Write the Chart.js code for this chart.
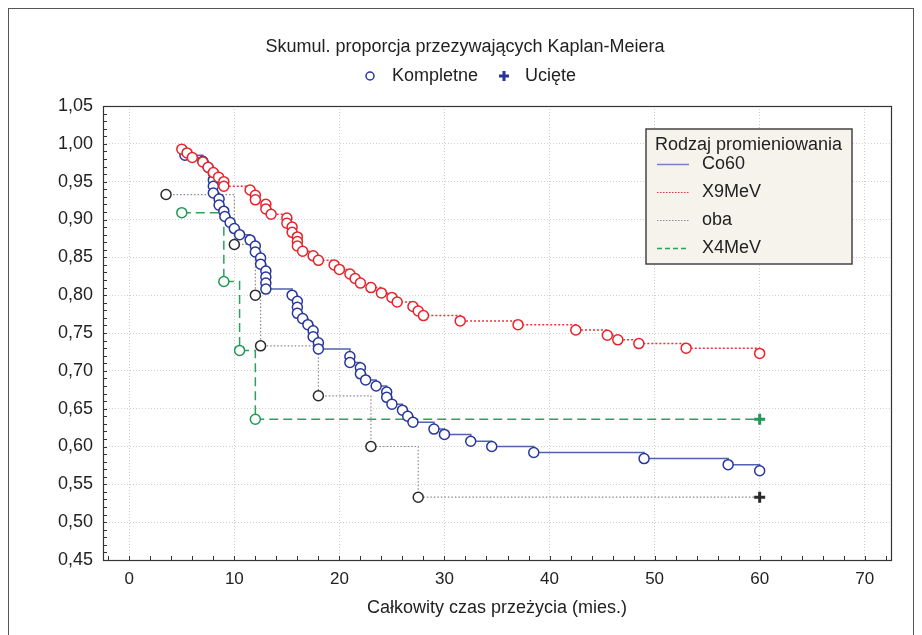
<!DOCTYPE html>
<html lang="pl">
<head>
<meta charset="utf-8">
<title>Skumul. proporcja przezywających Kaplan-Meiera</title>
<script src="https://cdn.jsdelivr.net/npm/chart.js@4.4.1/dist/chart.umd.min.js"></script>
<style>
  html, body { margin: 0; padding: 0; background: #fff; }
</style>
</head>
<body>
<canvas id="km" width="922" height="635"></canvas>
<script>
// ── Dane ──────────────────────────────────────────────────
const co60Czas = [5.3, 7.0, 7.5, 8.0, 8.0, 8.0, 8.0, 8.55, 8.55, 9.0, 9.1, 9.6, 10.0, 10.5, 11.5, 12.0, 12.0, 12.5, 12.5,
  13.0, 13.0, 13.0, 13.0, 15.5, 16.0, 16.0, 16.0, 16.5, 17.0, 17.5, 17.5, 18.0, 18.0, 21.0, 21.0, 22.0, 22.0, 22.5,
  23.5, 24.5, 24.5, 25.0, 26.0, 26.5, 27.0, 29.0, 30.0, 32.5, 34.5, 38.5, 49.0, 57.0, 60.0];
const co60Przez = [0.985, 0.977, 0.969, 0.961, 0.952, 0.944, 0.935, 0.927, 0.919, 0.911, 0.904, 0.896, 0.888, 0.880,
  0.873, 0.865, 0.857, 0.849, 0.841, 0.832, 0.824, 0.816, 0.808, 0.800, 0.792, 0.784, 0.776, 0.769, 0.761, 0.753,
  0.745, 0.737, 0.729, 0.719, 0.711, 0.704, 0.696, 0.688, 0.680, 0.672, 0.665, 0.656, 0.648, 0.640, 0.632, 0.623,
  0.616, 0.607, 0.600, 0.592, 0.584, 0.576, 0.568];

const x9Czas = [5.0, 5.5, 6.0, 7.0, 7.5, 8.0, 8.5, 9.0, 9.0, 11.5, 12.0, 12.0, 13.0, 13.0, 13.5, 15.0, 15.0, 15.5,
  15.5, 16.0, 16.0, 16.0, 16.5, 17.5, 18.0, 19.5, 20.0, 21.0, 21.5, 22.0, 23.0, 24.0, 25.0, 25.5, 27.0, 27.5, 28.0,
  31.5, 37.0, 42.5, 45.5, 46.5, 48.5, 53.0, 60.0];
const x9Przez = [0.993, 0.988, 0.982, 0.976, 0.969, 0.962, 0.956, 0.950, 0.944, 0.939, 0.932, 0.926, 0.920, 0.914,
  0.907, 0.902, 0.895, 0.890, 0.883, 0.877, 0.871, 0.865, 0.858, 0.852, 0.846, 0.840, 0.834, 0.828, 0.822, 0.816,
  0.810, 0.803, 0.797, 0.791, 0.785, 0.779, 0.773, 0.766, 0.761, 0.754, 0.747, 0.741, 0.736, 0.730, 0.723];

const obaCzas = [3.5, 10.0, 12.0, 12.5, 18.0, 23.0, 27.5];
const obaPrzez = [0.933, 0.867, 0.800, 0.733, 0.667, 0.600, 0.533];
const obaUcCzas = [60.0];
const obaUcPrzez = [0.533];

const x4Czas = [5.0, 9.0, 10.5, 12.0];
const x4Przez = [0.909, 0.818, 0.727, 0.636];
const x4UcCzas = [60.0];
const x4UcPrzez = [0.636];

const xTicks = [0, 10, 20, 30, 40, 50, 60, 70];
const yTicks = [0.45, 0.50, 0.55, 0.60, 0.65, 0.70, 0.75, 0.80, 0.85, 0.90, 0.95, 1.00, 1.05];
const yTickLabels = ['0,45', '0,50', '0,55', '0,60', '0,65', '0,70', '0,75', '0,80', '0,85', '0,90', '0,95', '1,00', '1,05'];

const FONT = '"Liberation Sans", Arial, sans-serif';
Chart.defaults.font.family = FONT;
Chart.defaults.color = '#222';

// ── Helpers ───────────────────────────────────────────────
function seria(czas, przez, ucCzas = [], ucPrzez = []) {
  const pts = czas.map((t, i) => ({ x: t, y: przez[i] }));
  ucCzas.forEach((t, i) => pts.push({ x: t, y: ucPrzez[i] }));
  const uc = i => i >= czas.length;
  return {
    data: pts,
    pointStyle: pts.map((p, i) => uc(i) ? 'cross' : 'circle'),
    pointRadius: pts.map((p, i) => uc(i) ? 5.5 : 5),
    pointBorderWidth: pts.map((p, i) => uc(i) ? 3 : 1.5)
  };
}

const co60 = seria(co60Czas, co60Przez);
const x9 = seria(x9Czas, x9Przez);
const oba = seria(obaCzas, obaPrzez, obaUcCzas, obaUcPrzez);
const x4 = seria(x4Czas, x4Przez, x4UcCzas, x4UcPrzez);

// ── Ramka, podziałki, tytuł i legendy ──────────────────────
const ramka = {
  id: 'ramka',
  beforeDraw(chart) {
    const ctx = chart.ctx;
    ctx.save();
    ctx.fillStyle = '#fff';
    ctx.fillRect(0, 0, chart.width, chart.height);
    ctx.strokeStyle = '#555';
    ctx.lineWidth = 1;
    ctx.strokeRect(8.5, 8.5, 905, 640);
    ctx.restore();
  },
  afterDraw(chart) {
    const { ctx, chartArea: a, scales: { x, y } } = chart;
    ctx.save();
    // podziałki wewnętrzne
    ctx.strokeStyle = '#333';
    ctx.lineWidth = 1;
    ctx.beginPath();
    for (let v = -2; v <= 72; v += 2) {
      const px = Math.round(x.getPixelForValue(v)) + 0.5;
      ctx.moveTo(px, a.bottom); ctx.lineTo(px, a.bottom - 4);
    }
    for (let k = 45; k <= 105; k++) {
      const py = Math.round(y.getPixelForValue(k / 100)) + 0.5;
      ctx.moveTo(a.left, py); ctx.lineTo(a.left + 4, py);
    }
    ctx.stroke();
    ctx.strokeStyle = '#333';
    ctx.lineWidth = 1.2;
    ctx.strokeRect(a.left + 0.5, a.top + 0.5, a.right - a.left, a.bottom - a.top);

    // tytuł
    ctx.fillStyle = '#222';
    ctx.font = '18px ' + FONT;
    ctx.textBaseline = 'middle';
    ctx.textAlign = 'center';
    ctx.fillText('Skumul. proporcja przezywających Kaplan-Meiera', 465, 47);

    // legenda znaczników
    ctx.textAlign = 'left';
    ctx.strokeStyle = '#26369a';
    ctx.lineWidth = 1.5;
    ctx.beginPath(); ctx.arc(370, 76, 4, 0, Math.PI * 2); ctx.stroke();
    ctx.fillText('Kompletne', 392, 76);
    ctx.lineWidth = 3;
    ctx.beginPath();
    ctx.moveTo(499, 76); ctx.lineTo(509, 76);
    ctx.moveTo(504, 71); ctx.lineTo(504, 81);
    ctx.stroke();
    ctx.fillText('Ucięte', 525, 76);

    // legenda grup
    ctx.fillStyle = '#f6f3ec';
    ctx.fillRect(646, 129, 206, 135);
    ctx.strokeStyle = '#444';
    ctx.lineWidth = 1.5;
    ctx.strokeRect(646, 129, 206, 135);
    ctx.fillStyle = '#222';
    ctx.fillText('Rodzaj promieniowania', 655, 145);
    const wpisy = [
      ['Co60', '#7480c0', [], 1.5],
      ['X9MeV', '#e8343c', [1.5, 1.5], 1.2],
      ['oba', '#8a8a8a', [1.5, 1.5], 1],
      ['X4MeV', '#2fa05e', [5, 3], 1.5]
    ];
    wpisy.forEach(([nazwa, kolor, dash, w], i) => {
      const yy = 164 + i * 28;
      ctx.strokeStyle = kolor;
      ctx.lineWidth = w;
      ctx.setLineDash(dash);
      ctx.beginPath(); ctx.moveTo(657, yy + 0.5); ctx.lineTo(689, yy + 0.5); ctx.stroke();
      ctx.setLineDash([]);
      ctx.fillText(nazwa, 702, yy);
    });
    ctx.restore();
  }
};

// ── Wykres ────────────────────────────────────────────────
new Chart(document.getElementById('km'), {
  type: 'scatter',
  data: {
    datasets: [
      {
        label: 'X9MeV', ...x9, showLine: true, stepped: true, order: 0,
        borderColor: '#e8343c', borderWidth: 1.5, borderDash: [2, 2],
        pointBorderColor: '#e8222b', pointBackgroundColor: '#fff'
      },
      {
        label: 'Co60', ...co60, showLine: true, stepped: true, order: 1,
        borderColor: '#5262b0', borderWidth: 1.5,
        pointBorderColor: '#26369a', pointBackgroundColor: '#fff'
      },
      {
        label: 'X4MeV', ...x4, showLine: true, stepped: true, order: 2,
        borderColor: '#2fa05e', borderWidth: 1.5, borderDash: [9, 5],
        pointBorderColor: '#1f9a55', pointBackgroundColor: '#fff'
      },
      {
        label: 'oba', ...oba, showLine: true, stepped: true, order: 3,
        borderColor: '#8a8a8a', borderWidth: 1.2, borderDash: [1.5, 2],
        pointBorderColor: '#2a2a2a', pointBackgroundColor: '#fff'
      }
    ]
  },
  options: {
    responsive: false,
    devicePixelRatio: 1,
    animation: false,
    events: [],
    layout: { padding: { top: 106, right: 31, left: 0, bottom: 0 } },
    plugins: { legend: { display: false }, tooltip: { enabled: false } },
    scales: {
      x: {
        type: 'linear', min: -2.5, max: 72.5,
        afterBuildTicks: s => { s.ticks = xTicks.map(v => ({ value: v })); },
        afterFit: s => { s.height = 75; },
        grid: { color: '#cfcfcf', drawTicks: false },
        border: { display: false, dash: [1, 2] },
        ticks: { font: { size: 17 }, color: '#222', padding: 9 },
        title: {
          display: true, text: 'Całkowity czas przeżycia (mies.)',
          font: { size: 18 }, color: '#222', padding: { top: 0, bottom: 16 }
        }
      },
      y: {
        type: 'linear', min: 0.45, max: 1.05,
        afterBuildTicks: s => { s.ticks = yTicks.map(v => ({ value: v })); },
        afterFit: s => { s.width = 103; },
        grid: { color: '#cfcfcf', drawTicks: false },
        border: { display: false, dash: [1, 2] },
        ticks: { font: { size: 18 }, color: '#222', padding: 10, callback: (v, i) => yTickLabels[i] }
      }
    }
  },
  plugins: [ramka]
});
</script>
</body>
</html>
